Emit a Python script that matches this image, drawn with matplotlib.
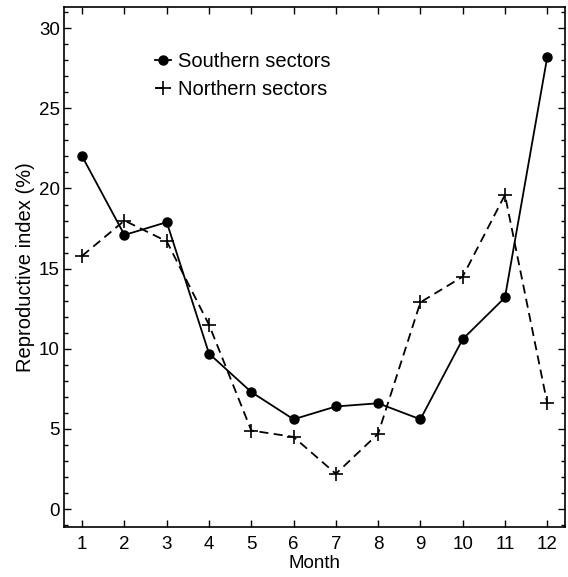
import matplotlib
matplotlib.use("Agg")
import matplotlib.pyplot as plt
from matplotlib.ticker import MultipleLocator

plt.rcParams['font.family'] = ['Liberation Sans', 'DejaVu Sans']

months = [1, 2, 3, 4, 5, 6, 7, 8, 9, 10, 11, 12]
southern = [22.0, 17.1, 17.9, 9.7, 7.3, 5.6, 6.4, 6.6, 5.6, 10.6, 13.2, 28.2]
northern = [15.8, 18.0, 16.7, 11.5, 4.9, 4.5, 2.2, 4.7, 12.9, 14.5, 19.6, 6.6]
yticks = [0, 5, 10, 15, 20, 25, 30]

fig = plt.figure(figsize=(5.68, 5.77), dpi=100)
ax = fig.add_axes([0.1127, 0.0872, 0.882, 0.900])

ax.plot(months, southern, color='black', lw=1.3, ls='-', marker='o',
        markersize=6.5, label='Southern sectors')
ax.plot(months, northern, color='black', lw=1.3, ls=(0, (5, 3)), marker='+',
        markersize=10, markeredgewidth=1.2, label='Northern sectors')

ax.set_xlim(0.57, 12.42)
ax.set_ylim(-1.1, 31.3)
ax.set_xticks(months)
ax.set_yticks(yticks)
ax.yaxis.set_minor_locator(MultipleLocator(1))

ax.tick_params(axis='both', which='major', direction='in', length=5, width=1,
               labelsize=13.5, top=True, right=True)
ax.tick_params(axis='x', which='major', pad=7)
ax.tick_params(axis='y', which='major', pad=3)
ax.tick_params(axis='y', which='minor', direction='in', length=3, width=1,
               left=True, right=True)
ax.tick_params(axis='x', which='minor', bottom=False, top=False)

for s in ax.spines.values():
    s.set_linewidth(1.2)

ax.set_xlabel('Month', fontsize=13.5, labelpad=1)
ax.set_ylabel('Reproductive index (%)', fontsize=14.5, labelpad=3)

ax.legend(loc='upper left', bbox_to_anchor=(0.165, 0.93), frameon=False,
          fontsize=14.5, handlelength=0.8, handletextpad=0.35, labelspacing=0.45,
          borderaxespad=0)

fig.savefig('out.png', dpi=100)
